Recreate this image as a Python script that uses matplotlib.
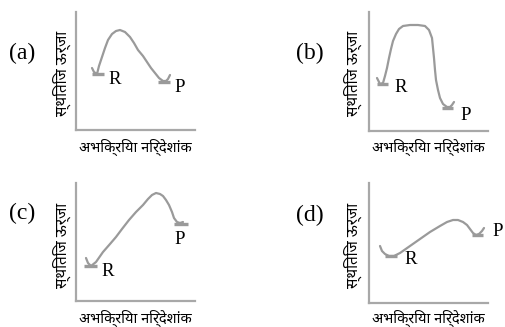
import matplotlib
matplotlib.use("Agg")
import matplotlib.pyplot as plt

# ---- data (units = reference pixels inside each axes box) ----
panel_labels = ["(a)", "(b)", "(c)", "(d)"]
ylabel_text = "स्थितिज ऊर्जा"
xlabel_text = "अभिक्रिया निर्देशांक"

a_x = [16, 18, 21, 23, 26, 29, 32, 36, 40, 44, 49, 54, 58, 62, 67, 71, 75, 79, 83, 87, 90, 92, 94]
a_y = [62, 58, 56, 64, 73, 82, 90, 96, 99, 100, 98, 93, 87, 80, 74, 68, 62, 57, 52, 49, 49, 51, 55]
a_R_shelf = ([16, 28], [56, 56])
a_P_shelf = ([82, 94], [48, 48])

b_x = [8, 11, 14, 16, 18, 20, 22, 24, 27, 30, 34, 41, 49, 56, 60, 63, 64, 65, 66, 67, 69, 71, 74, 78, 81, 83, 85]
b_y = [53, 47, 48, 55, 63, 73, 82, 90, 97, 102, 105, 106, 106, 105, 101, 93, 83, 73, 61, 51, 41, 33, 27, 24, 24, 26, 29]
b_R_shelf = ([8, 19], [47, 47])
b_P_shelf = ([73, 84], [23, 23])

c_x = [10, 12, 15, 20, 27, 34, 40, 46, 53, 60, 67, 72, 76, 80, 84, 87, 90, 93, 96, 98, 101, 104, 107]
c_y = [43, 38, 35, 39, 49, 57, 64, 72, 81, 89, 96, 102, 106, 108, 107, 105, 101, 96, 89, 83, 79, 78, 79]
c_R_shelf = ([8, 21], [35, 35])
c_P_shelf = ([98, 112], [77, 77])

d_x = [11, 13, 16, 20, 25, 31, 41, 51, 61, 71, 78, 84, 89, 94, 98, 101, 104, 107, 110, 113, 115]
d_y = [57, 52, 49, 47, 47, 50, 57, 64, 71, 77, 81, 83, 83, 81, 78, 74, 70, 68, 69, 72, 75]
d_R_shelf = ([16, 28], [47, 47])
d_P_shelf = ([103, 114], [68, 68])

R_pos = [(39, 50), (32, 43), (32, 30), (42, 43)]
P_pos = [(104, 42), (97, 16), (104, 62), (129, 72)]

# ---- layout ----
W, H = 506, 327
fig = plt.figure(figsize=(W / 100, H / 100), dpi=100)
# (left, top, right, bottom) in pixels
boxes = [(76, 12, 195, 130), (369, 12, 488, 131), (76, 183, 195, 301), (369, 183, 488, 303)]
panel_pos = [(22, 53), (310, 53), (22, 213), (310, 215)]
ylab_pos = [(62, 73), (353, 73), (62, 245), (353, 245)]
xlab_pos = [(135, 147), (428, 147), (135, 318), (428, 318)]

curves = [(a_x, a_y, a_R_shelf, a_P_shelf), (b_x, b_y, b_R_shelf, b_P_shelf),
          (c_x, c_y, c_R_shelf, c_P_shelf), (d_x, d_y, d_R_shelf, d_P_shelf)]

deva = ["Noto Sans Devanagari", "Hind", "Mukta", "DejaVu Sans"]
serif = ["Liberation Serif", "DejaVu Serif"]
line_col = "#9a9a9a"
axis_col = "#a8a8a8"

for i, (l, t, r, b) in enumerate(boxes):
    ax = fig.add_axes([l / W, 1 - b / H, (r - l) / W, (b - t) / H])
    ax.set_xlim(0, r - l)
    ax.set_ylim(0, b - t)
    ax.set_xticks([])
    ax.set_yticks([])
    for s in ["top", "right"]:
        ax.spines[s].set_visible(False)
    for s in ["left", "bottom"]:
        ax.spines[s].set_color(axis_col)
        ax.spines[s].set_linewidth(1.6)
    ax.patch.set_visible(False)
    cx, cy, rs, ps = curves[i]
    ax.plot(cx, cy, color=line_col, lw=1.6, solid_capstyle="round", solid_joinstyle="round", clip_on=False)
    ax.plot(rs[0], rs[1], color=line_col, lw=2.4, solid_capstyle="butt", clip_on=False)
    ax.plot(ps[0], ps[1], color=line_col, lw=2.4, solid_capstyle="butt", clip_on=False)
    ax.text(R_pos[i][0], R_pos[i][1], "R", family=serif, fontsize=13.5, ha="center", va="center", clip_on=False)
    ax.text(P_pos[i][0], P_pos[i][1], "P", family=serif, fontsize=13.5, ha="center", va="center", clip_on=False)

    px, py = panel_pos[i]
    fig.text(px / W, 1 - py / H, panel_labels[i], family=serif, fontsize=17, ha="center", va="center")
    yx, yy = ylab_pos[i]
    fig.text(yx / W, 1 - yy / H, ylabel_text, family=deva, fontsize=11, rotation=90, ha="center", va="center")
    xx, xy = xlab_pos[i]
    fig.text(xx / W, 1 - xy / H, xlabel_text, family=deva, fontsize=10.5, ha="center", va="center")

fig.savefig("out.png", dpi=100, facecolor="white")
